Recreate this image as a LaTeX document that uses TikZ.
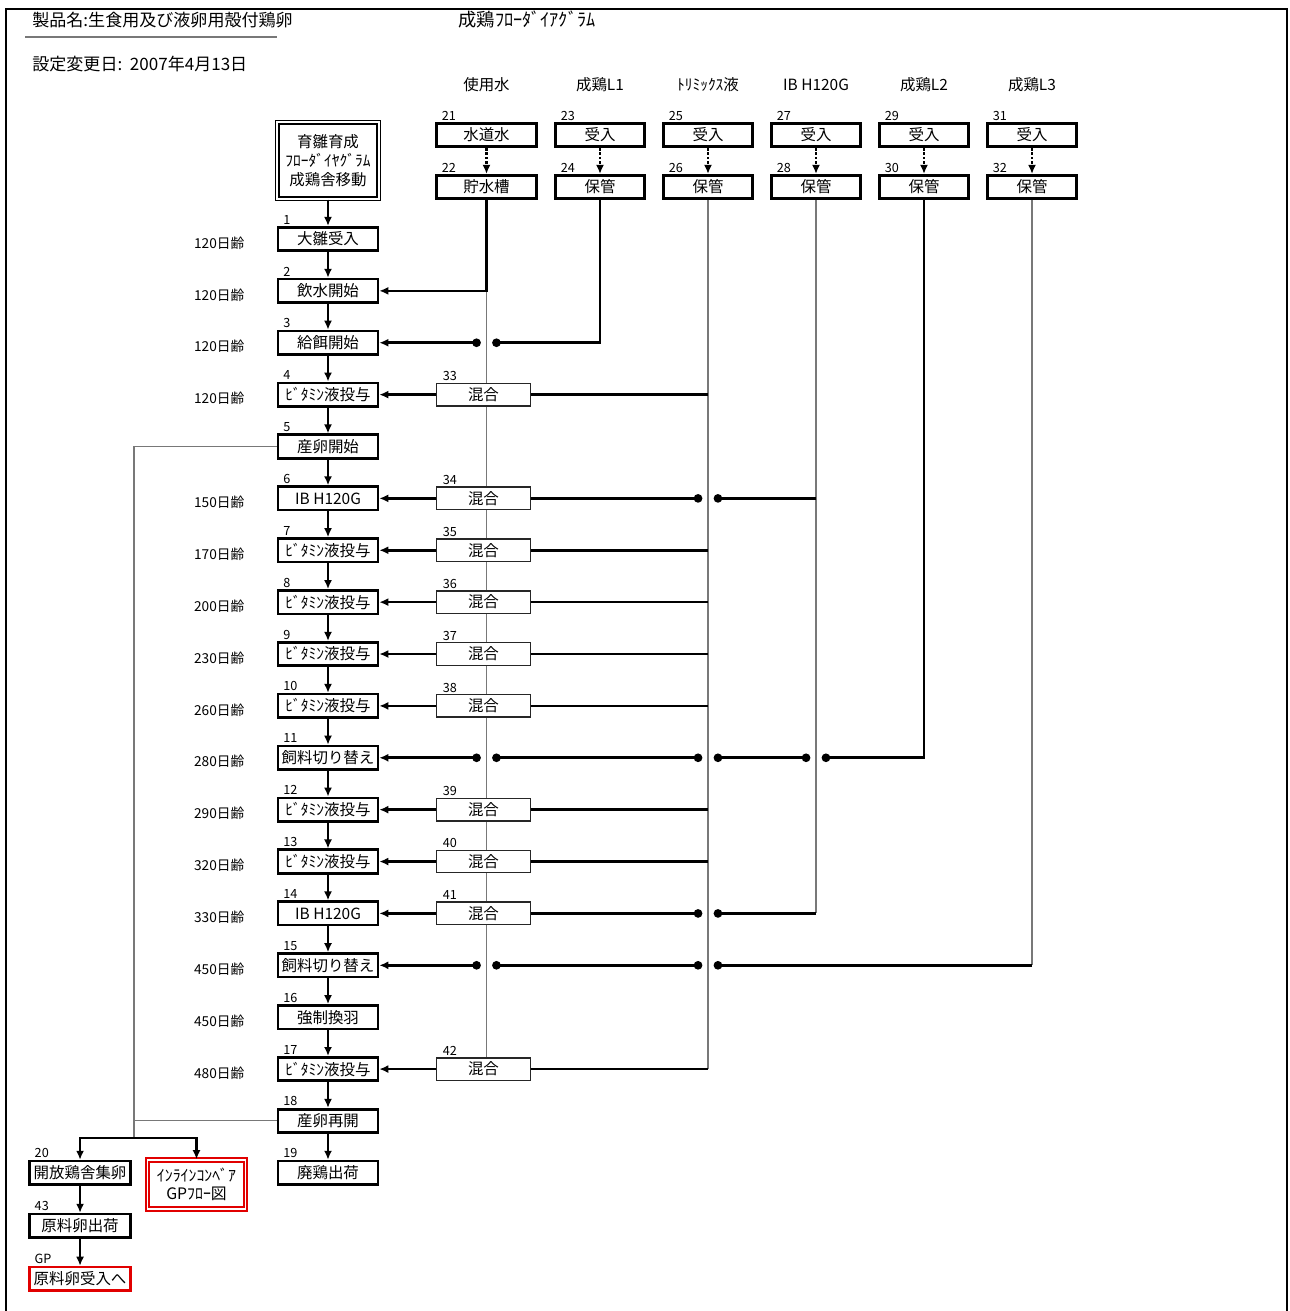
\documentclass[tikz,border=0pt]{standalone}
\usepackage{fontspec}
\setmainfont{Noto Sans CJK JP}
\usetikzlibrary{arrows.meta,positioning,calc,backgrounds}
\definecolor{linegray}{RGB}{120,120,120}
\definecolor{linkred}{RGB}{225,0,0}

\begin{document}
\begin{tikzpicture}[
  x=0.02cm, y=-0.02cm,
  node distance=1.0378cm, on grid,
  stepbox/.style={draw, line width=1.5pt, fill=white, minimum width=2cm, minimum height=0.47cm, inner sep=0pt, font=\fontsize{8.8}{10}\selectfont},
  srcbox/.style={stepbox, minimum width=1.78cm},
  mixbox/.style={draw=black!85, line width=0.8pt, fill=white, minimum width=1.87cm, minimum height=0.45cm, inner sep=0pt, font=\fontsize{8.8}{10}\selectfont},
  topbox/.style={draw, line width=0.9pt, double, double distance=1.1pt, fill=white, minimum width=2.03cm, minimum height=1.53cm, align=center, inner sep=0pt, font=\fontsize{8.8}{10.8}\selectfont},
  gpbox/.style={stepbox, draw=linkred, minimum width=2.03cm},
  linkbox/.style={topbox, draw=linkred, line width=0.9pt, minimum width=1.96cm, minimum height=0.98cm, font=\fontsize{9}{10.4}\selectfont},
  num/.style={anchor=south west, xshift=0.1cm, inner sep=0.8pt, font=\fontsize{7.2}{8}\selectfont},
  age/.style={inner sep=0pt, xshift=-0.64cm, yshift=-0.08cm, font=\fontsize{7.8}{9}\selectfont},
  head/.style={font=\fontsize{8.8}{10}\selectfont},
  heading/.style={inner sep=0pt, font=\fontsize{9.7}{12}\selectfont},
  arr/.style={-{Latex[length=1.8mm,width=1.6mm]}, line width=1.5pt},
  feed/.style={line width=1.5pt},
  thinline/.style={draw=linegray, line width=0.6pt},
  dotarr/.style={-{Latex[length=1.8mm,width=1.6mm]}, line width=1.5pt, densely dotted},
  tojump/.style={-{Circle[length=1.7mm]}, line width=1.5pt},
  fromjump/.style={{Circle[length=1.7mm]}-, line width=1.5pt},
  jumpjump/.style={{Circle[length=1.7mm]}-{Circle[length=1.7mm]}, line width=1.5pt},
  jumparr/.style={{Circle[length=1.7mm]}-{Latex[length=1.8mm,width=1.6mm]}, line width=1.5pt}
]
\useasboundingbox (0,0) rectangle (1289,1311);
\draw[line width=1.3pt] (6,1311) -- (6,9) -- (1287,9) -- (1287,1311);

% titles
\node[heading, anchor=west] (title) at (32,20) {製品名:生食用及び液卵用殻付鶏卵};
\draw[linegray, line width=0.8pt] (25,37) -- (277,37);
\node[heading, font=\fontsize{10.4}{12}\selectfont] (chart) at (527,20) {成鶏ﾌﾛｰﾀﾞｲｱｸﾞﾗﾑ};
\node[heading, anchor=west] (date) at (32,64) {設定変更日:\ \ 2007年4月13日};

% main flow
\node[topbox] (top) at (328,160.5) {育雛育成\\ﾌﾛｰﾀﾞｲﾔｸﾞﾗﾑ\\成鶏舎移動};
\node[stepbox, below=1.57cm of top, label={[num]north west:1}, label={[age]left:120日齢}] (m1) {大雛受入};
\node[stepbox, below=of m1, label={[num]north west:2}, label={[age]left:120日齢}] (m2) {飲水開始};
\node[stepbox, below=of m2, label={[num]north west:3}, label={[age]left:120日齢}] (m3) {給餌開始};
\node[stepbox, below=of m3, label={[num]north west:4}, label={[age]left:120日齢}] (m4) {ﾋﾞﾀﾐﾝ液投与};
\node[stepbox, below=of m4, label={[num]north west:5}] (m5) {産卵開始};
\node[stepbox, below=of m5, label={[num]north west:6}, label={[age]left:150日齢}] (m6) {IB H120G};
\node[stepbox, below=of m6, label={[num]north west:7}, label={[age]left:170日齢}] (m7) {ﾋﾞﾀﾐﾝ液投与};
\node[stepbox, below=of m7, label={[num]north west:8}, label={[age]left:200日齢}] (m8) {ﾋﾞﾀﾐﾝ液投与};
\node[stepbox, below=of m8, label={[num]north west:9}, label={[age]left:230日齢}] (m9) {ﾋﾞﾀﾐﾝ液投与};
\node[stepbox, below=of m9, label={[num]north west:10}, label={[age]left:260日齢}] (m10) {ﾋﾞﾀﾐﾝ液投与};
\node[stepbox, below=of m10, label={[num]north west:11}, label={[age]left:280日齢}] (m11) {飼料切り替え};
\node[stepbox, below=of m11, label={[num]north west:12}, label={[age]left:290日齢}] (m12) {ﾋﾞﾀﾐﾝ液投与};
\node[stepbox, below=of m12, label={[num]north west:13}, label={[age]left:320日齢}] (m13) {ﾋﾞﾀﾐﾝ液投与};
\node[stepbox, below=of m13, label={[num]north west:14}, label={[age]left:330日齢}] (m14) {IB H120G};
\node[stepbox, below=of m14, label={[num]north west:15}, label={[age]left:450日齢}] (m15) {飼料切り替え};
\node[stepbox, below=of m15, label={[num]north west:16}, label={[age]left:450日齢}] (m16) {強制換羽};
\node[stepbox, below=of m16, label={[num]north west:17}, label={[age]left:480日齢}] (m17) {ﾋﾞﾀﾐﾝ液投与};
\node[stepbox, below=of m17, label={[num]north west:18}] (m18) {産卵再開};
\node[stepbox, below=of m18, label={[num]north west:19}] (m19) {廃鶏出荷};

% supplies
\node[srcbox, minimum width=2cm, label={[num]north west:21}] (s21) at (486.5,135) {水道水};
\node[srcbox, minimum width=2cm, below=1.04cm of s21, label={[num]north west:22}] (s22) {貯水槽};
\node[srcbox, label={[num]north west:23}] (s23) at (600,135) {受入};
\node[srcbox, below=1.04cm of s23, label={[num]north west:24}] (s24) {保管};
\node[srcbox, label={[num]north west:25}] (s25) at (708,135) {受入};
\node[srcbox, below=1.04cm of s25, label={[num]north west:26}] (s26) {保管};
\node[srcbox, label={[num]north west:27}] (s27) at (816,135) {受入};
\node[srcbox, below=1.04cm of s27, label={[num]north west:28}] (s28) {保管};
\node[srcbox, label={[num]north west:29}] (s29) at (924,135) {受入};
\node[srcbox, below=1.04cm of s29, label={[num]north west:30}] (s30) {保管};
\node[srcbox, label={[num]north west:31}] (s31) at (1032,135) {受入};
\node[srcbox, below=1.04cm of s31, label={[num]north west:32}] (s32) {保管};
\node[head, above=1cm of s21] (h21) {使用水};
\node[head, above=1cm of s23] (h23) {成鶏L1};
\node[head, above=1cm of s25] (h25) {ﾄﾘﾐｯｸｽ液};
\node[head, above=1cm of s27] (h27) {IB H120G};
\node[head, above=1cm of s29] (h29) {成鶏L2};
\node[head, above=1cm of s31] (h31) {成鶏L3};

% mixing
\node[mixbox, right=3.11cm of m4, label={[num]north west:33}] (x33) {混合};
\node[mixbox, right=3.11cm of m6, label={[num]north west:34}] (x34) {混合};
\node[mixbox, right=3.11cm of m7, label={[num]north west:35}] (x35) {混合};
\node[mixbox, right=3.11cm of m8, label={[num]north west:36}] (x36) {混合};
\node[mixbox, right=3.11cm of m9, label={[num]north west:37}] (x37) {混合};
\node[mixbox, right=3.11cm of m10, label={[num]north west:38}] (x38) {混合};
\node[mixbox, right=3.11cm of m12, label={[num]north west:39}] (x39) {混合};
\node[mixbox, right=3.11cm of m13, label={[num]north west:40}] (x40) {混合};
\node[mixbox, right=3.11cm of m14, label={[num]north west:41}] (x41) {混合};
\node[mixbox, right=3.11cm of m17, label={[num]north west:42}] (x42) {混合};

% eggs out
\node[stepbox, minimum width=2.03cm, left=4.96cm of m19, label={[num]north west:20}] (g20) {開放鶏舎集卵};
\node[stepbox, minimum width=2.03cm, below=1.06cm of g20, label={[num]north west:43}] (g43) {原料卵出荷};
\node[gpbox, below=1.06cm of g43, label={[num]north west:GP}] (gp) {原料卵受入へ};
\node[linkbox] (inline) at (196.5,1184.5) {ｲﾝﾗｲﾝｺﾝﾍﾞｱ\\GPﾌﾛｰ図};
\coordinate (split) at (134,1138);

% line jumps
\coordinate (c3wl) at ($(s22.south |- m3)+(-5.7,0)$);
\coordinate (c3wr) at ($(s22.south |- m3)+(5.7,0)$);
\coordinate (c6tl) at ($(s26.south |- m6)+(-5.7,0)$);
\coordinate (c6tr) at ($(s26.south |- m6)+(5.7,0)$);
\coordinate (c11wl) at ($(s22.south |- m11)+(-5.7,0)$);
\coordinate (c11wr) at ($(s22.south |- m11)+(5.7,0)$);
\coordinate (c11tl) at ($(s26.south |- m11)+(-5.7,0)$);
\coordinate (c11tr) at ($(s26.south |- m11)+(5.7,0)$);
\coordinate (c11il) at ($(s28.south |- m11)+(-5.7,0)$);
\coordinate (c11ir) at ($(s28.south |- m11)+(5.7,0)$);
\coordinate (c14tl) at ($(s26.south |- m14)+(-5.7,0)$);
\coordinate (c14tr) at ($(s26.south |- m14)+(5.7,0)$);
\coordinate (c15wl) at ($(s22.south |- m15)+(-5.7,0)$);
\coordinate (c15wr) at ($(s22.south |- m15)+(5.7,0)$);
\coordinate (c15tl) at ($(s26.south |- m15)+(-5.7,0)$);
\coordinate (c15tr) at ($(s26.south |- m15)+(5.7,0)$);

\begin{scope}[on background layer]
\draw[thinline] (s22.south |- m2) -- (s22.south |- x42);
\draw[thinline] (s26) -- (s26.south |- x42);
\draw[thinline] (s28) -- (s28.south |- m14);
\draw[thinline] (s32) -- (s32.south |- m15);
\end{scope}

% main arrows
\draw[arr] (top) -- (m1);
\draw[arr] (m1) -- (m2);
\draw[arr] (m2) -- (m3);
\draw[arr] (m3) -- (m4);
\draw[arr] (m4) -- (m5);
\draw[arr] (m5) -- (m6);
\draw[arr] (m6) -- (m7);
\draw[arr] (m7) -- (m8);
\draw[arr] (m8) -- (m9);
\draw[arr] (m9) -- (m10);
\draw[arr] (m10) -- (m11);
\draw[arr] (m11) -- (m12);
\draw[arr] (m12) -- (m13);
\draw[arr] (m13) -- (m14);
\draw[arr] (m14) -- (m15);
\draw[arr] (m15) -- (m16);
\draw[arr] (m16) -- (m17);
\draw[arr] (m17) -- (m18);
\draw[arr] (m18) -- (m19);

% supply arrows
\draw[dotarr] (s21) -- (s22);
\draw[dotarr] (s23) -- (s24);
\draw[dotarr] (s25) -- (s26);
\draw[dotarr] (s27) -- (s28);
\draw[dotarr] (s29) -- (s30);
\draw[dotarr] (s31) -- (s32);

% water and feed L1
\draw[arr] (s22) |- (m2);
\draw[tojump] (s24) |- (c3wr);
\draw[jumparr] (c3wl) -- (m3);

% vitamin and vaccine
\draw[feed] (s26.south |- x33) -- (x33);
\draw[arr] (x33) -- (m4);
\draw[tojump] (s28.south |- m6) -- (c6tr);
\draw[fromjump] (c6tl) -- (x34);
\draw[arr] (x34) -- (m6);
\draw[feed] (s26.south |- x35) -- (x35);
\draw[arr] (x35) -- (m7);
\draw[feed] (s26.south |- x36) -- (x36);
\draw[arr] (x36) -- (m8);
\draw[feed] (s26.south |- x37) -- (x37);
\draw[arr] (x37) -- (m9);
\draw[feed] (s26.south |- x38) -- (x38);
\draw[arr] (x38) -- (m10);
\draw[feed] (s26.south |- x39) -- (x39);
\draw[arr] (x39) -- (m12);
\draw[feed] (s26.south |- x40) -- (x40);
\draw[arr] (x40) -- (m13);
\draw[tojump] (s28.south |- m14) -- (c14tr);
\draw[fromjump] (c14tl) -- (x41);
\draw[arr] (x41) -- (m14);
\draw[feed] (s26.south |- x42) -- (x42);
\draw[arr] (x42) -- (m17);

% feed L2 and L3
\draw[tojump] (s30) |- (c11ir);
\draw[jumpjump] (c11il) -- (c11tr);
\draw[jumpjump] (c11tl) -- (c11wr);
\draw[jumparr] (c11wl) -- (m11);
\draw[tojump] (s32.south |- m15) -- (c15tr);
\draw[jumpjump] (c15tl) -- (c15wr);
\draw[jumparr] (c15wl) -- (m15);

% eggs
\draw[thinline] (m5) -| (split);
\draw[thinline] (m18) -| (split);
\draw[arr] (split) -| (g20);
\draw[arr] (split) -| (inline);
\draw[arr] (g20) -- (g43);
\draw[arr] (g43) -- (gp);
\end{tikzpicture}
\end{document}
